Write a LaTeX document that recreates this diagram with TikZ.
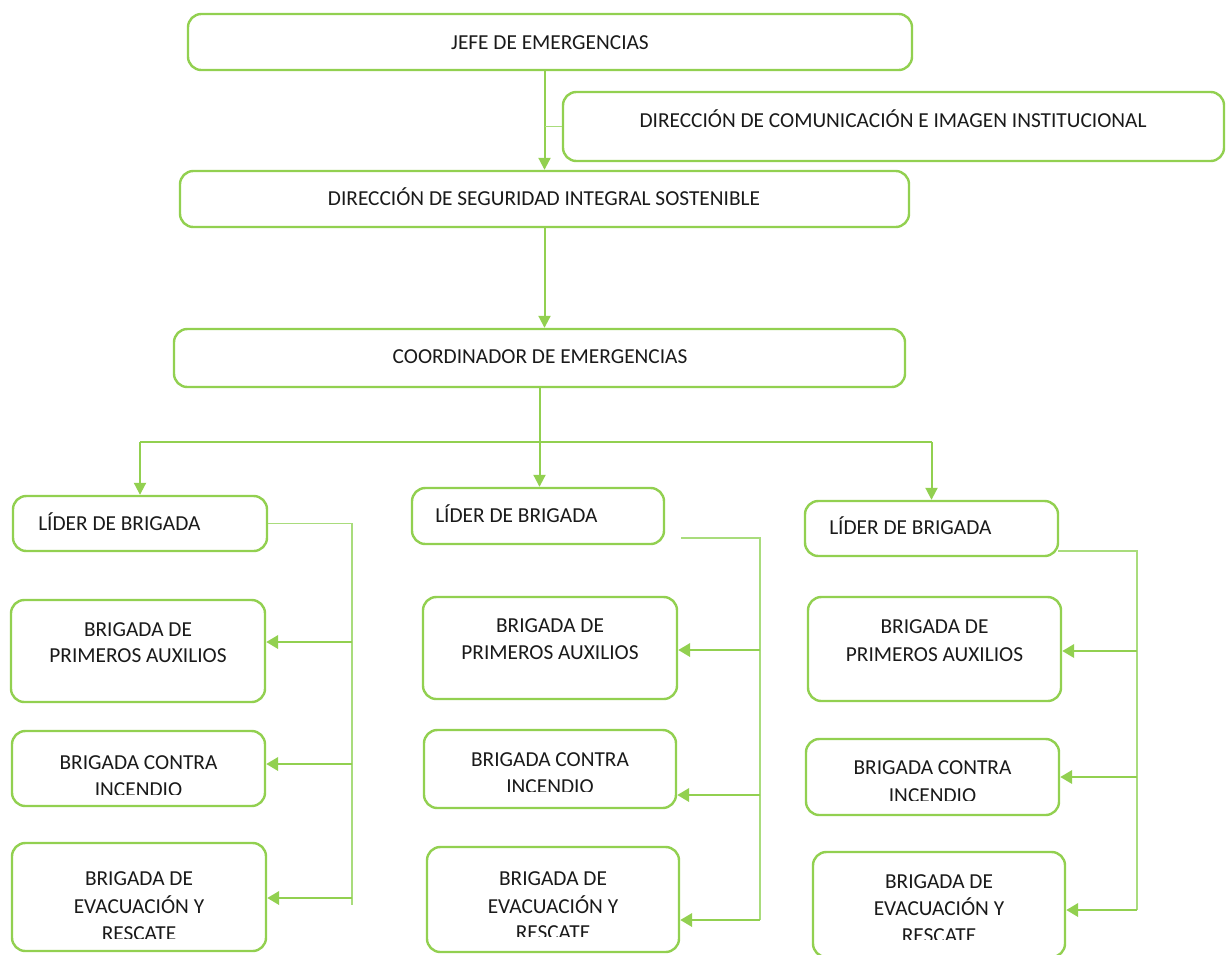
\documentclass[tikz,border=0pt]{standalone}
\usepackage{fontspec}
\setmainfont{Carlito}
\usetikzlibrary{arrows.meta,fit}
\definecolor{gr}{HTML}{92D050}
\definecolor{grl}{HTML}{A9DC7C}
\definecolor{txtc}{HTML}{1A1A1A}
\tikzset{
  box/.style={draw=gr, line width=1.8pt, rounded corners=10pt, inner sep=0pt},
  lbl/.style={text=txtc, font=\fontsize{16}{19}\selectfont, inner sep=0pt},
  arr/.style={draw=gr, line width=1.5pt, -{Triangle[length=9pt,width=9pt]}},
  harr/.style={draw=gr, line width=2pt, -{Triangle[length=9pt,width=10pt]}},
  con/.style={draw=grl, line width=1pt},
  barline/.style={draw=gr, line width=1pt},
}
\newcommand\tl[4]{\node[lbl,anchor=base] (#1) at (#2,#3+6.8) {#4};}
\newcommand\tlw[4]{\node[lbl,anchor=base west] (#1) at (#2,#3+6.8) {#4};}
\newcommand\tlc[5]{\begin{scope}\clip (0,0) rectangle (1226,#5);\node[lbl,anchor=base] (#1) at (#2,#3+6.8) {#4};\end{scope}}
\begin{document}
\begin{tikzpicture}[x=0.75pt,y=-0.75pt]
\clip (0,0) rectangle (1226,954);
\fill[white] (0,0) rectangle (1226,954);

% top level boxes
\node[box, fit={(188,14) (912,70)}] (jefe) {};
\tl{jefet}{550}{43}{JEFE DE EMERGENCIAS}
\node[box, fit={(563,92) (1224,161)}] (com) {};
\tl{comt}{893}{121}{DIRECCIÓN DE COMUNICACIÓN E IMAGEN INSTITUCIONAL}
\node[box, fit={(180,171) (909,227)}] (dsis) {};
\tl{dsist}{544}{199}{DIRECCIÓN DE SEGURIDAD INTEGRAL SOSTENIBLE}
\node[box, fit={(174,329) (905,387)}] (coord) {};
\tl{coordt}{540}{357}{COORDINADOR DE EMERGENCIAS}

% leaders
\node[box, fit={(13,496) (267,551)}] (lid1) {};
\tlw{lid1t}{38}{524}{LÍDER DE BRIGADA}
\node[box, fit={(412,488) (664,544)}] (lid2) {};
\tlw{lid2t}{435}{516}{LÍDER DE BRIGADA}
\node[box, fit={(805,501) (1058,556)}] (lid3) {};
\tlw{lid3t}{829}{528}{LÍDER DE BRIGADA}

% left column brigades
\node[box, fit={(11,600) (265,702)}] (pa1) {};
\tl{pa1a}{138}{630}{BRIGADA DE}
\tl{pa1b}{138}{656}{PRIMEROS AUXILIOS}
\node[box, fit={(12,731) (265,806)}] (ci1) {};
\tl{ci1a}{138.5}{763}{BRIGADA CONTRA}
\tlc{ci1b}{138.5}{790}{INCENDIO}{794}
\node[box, fit={(12,843) (266,951)}] (er1) {};
\tl{er1a}{139}{879}{BRIGADA DE}
\tl{er1b}{139}{907}{EVACUACIÓN Y}
\tlc{er1c}{139}{934}{RESCATE}{938}

% middle column brigades
\node[box, fit={(423,597) (677,699)}] (pa2) {};
\tl{pa2a}{550}{626}{BRIGADA DE}
\tl{pa2b}{550}{653}{PRIMEROS AUXILIOS}
\node[box, fit={(424,730) (676,808)}] (ci2) {};
\tl{ci2a}{550}{760}{BRIGADA CONTRA}
\tlc{ci2b}{550}{787}{INCENDIO}{791}
\node[box, fit={(427,847) (679,952)}] (er2) {};
\tl{er2a}{553}{879}{BRIGADA DE}
\tl{er2b}{553}{907}{EVACUACIÓN Y}
\tlc{er2c}{553}{933}{RESCATE}{936}

% right column brigades
\node[box, fit={(808,597) (1061,701)}] (pa3) {};
\tl{pa3a}{934.5}{627}{BRIGADA DE}
\tl{pa3b}{934.5}{655}{PRIMEROS AUXILIOS}
\node[box, fit={(806,739) (1059,815)}] (ci3) {};
\tl{ci3a}{932.5}{768}{BRIGADA CONTRA}
\tlc{ci3b}{932.5}{796}{INCENDIO}{800}
\node[box, fit={(813,852) (1065,957)}] (er3) {};
\tl{er3a}{939}{882}{BRIGADA DE}
\tl{er3b}{939}{909}{EVACUACIÓN Y}
\tlc{er3c}{939}{936}{RESCATE}{939.5}

% top connectors
\draw[arr] (dsis.north |- jefe.south) -- (dsis.north);
\draw[con] (com.west -| dsis.north) -- (com.west);
\draw[arr] (dsis.south) -- (dsis.south |- coord.north);
\draw[arr] (coord.south) -- (coord.south |- lid2.north);
\coordinate (bar) at (0,442);
\draw[barline] (lid1.north |- bar) -- (lid3.north |- bar);
\draw[arr] (lid1.north |- bar) -- (lid1.north);
\draw[arr] (lid3.north |- bar) -- (lid3.north);

% left leader connectors
\coordinate (l1v) at (352,905);
\draw[con] (lid1.east) -- (lid1.east -| l1v) -- (l1v);
\coordinate (l1a) at (352,642);
\coordinate (l1b) at (352,764);
\coordinate (l1c) at (352,898);
\draw[harr] (l1a) -- (l1a -| pa1.east);
\draw[harr] (l1b) -- (l1b -| ci1.east);
\draw[harr] (l1c) -- (l1c -| er1.east);

% middle leader connectors
\coordinate (m0) at (681,538);
\coordinate (m1) at (760,538);
\coordinate (m2) at (760,920);
\draw[con] (m0) -- (m1) -- (m2);
\coordinate (m2a) at (760,650);
\coordinate (m2b) at (760,795);
\draw[harr] (m2a) -- (m2a -| pa2.east);
\draw[harr] (m2b) -- (m2b -| ci2.east);
\draw[harr] (m2) -- (m2 -| er2.east);

% right leader connectors
\coordinate (r0) at (1058,551);
\coordinate (r1) at (1137,551);
\coordinate (r2) at (1137,910);
\draw[con] (r0) -- (r1) -- (r2);
\coordinate (r3a) at (1137,651);
\coordinate (r3b) at (1137,777);
\draw[harr] (r3a) -- (r3a -| pa3.east);
\draw[harr] (r3b) -- (r3b -| ci3.east);
\draw[harr] (r2) -- (r2 -| er3.east);
\end{tikzpicture}
\end{document}
